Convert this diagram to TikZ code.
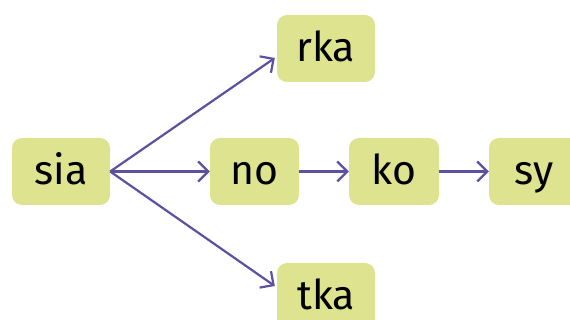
\documentclass[tikz,border=0pt]{standalone}
\usepackage{fontspec}
\setmainfont{Fira Sans}
\usetikzlibrary{arrows.meta}
\definecolor{boxfill}{RGB}{221,227,143}
\definecolor{arrowcol}{RGB}{93,80,160}
\begin{document}
\begin{tikzpicture}[x=1pt,y=-1pt,
  box/.style={fill=boxfill, rounded corners=10pt, inner sep=0pt, minimum height=67pt,
    font=\fontsize{41}{41}\selectfont, text=black, text height=30.75pt, text depth=4.1pt},
  conn/.style={draw=arrowcol, line width=2.2pt, -{Straight Barb[length=10pt,width=20pt,line width=2.2pt]}}]
\useasboundingbox (0,0) rectangle (570,320);
\node[box, minimum width=98pt] (sia) at (61,171.5) {sia};
\node[box, minimum width=89pt] (no) at (254.5,171.5) {no};
\node[box, minimum width=90pt] (ko) at (394,171.5) {ko};
\node[box, minimum width=90pt] (sy) at (534,171.5) {sy};
\node[box, minimum width=98pt] (rka) at (326,48.5) {rka};
\node[box, minimum width=98pt] (tka) at (326,296.5) {tka};
\draw[conn] (sia.east) -- ([xshift=-2pt]rka.west |- 0,58);
\draw[conn] (sia.east) -- ([xshift=-2pt]tka.west |- 0,286);
\draw[conn] (sia.east) -- (no.west);
\draw[conn] (no.east) -- (ko.west);
\draw[conn] (ko.east) -- (sy.west);
\end{tikzpicture}
\end{document}
